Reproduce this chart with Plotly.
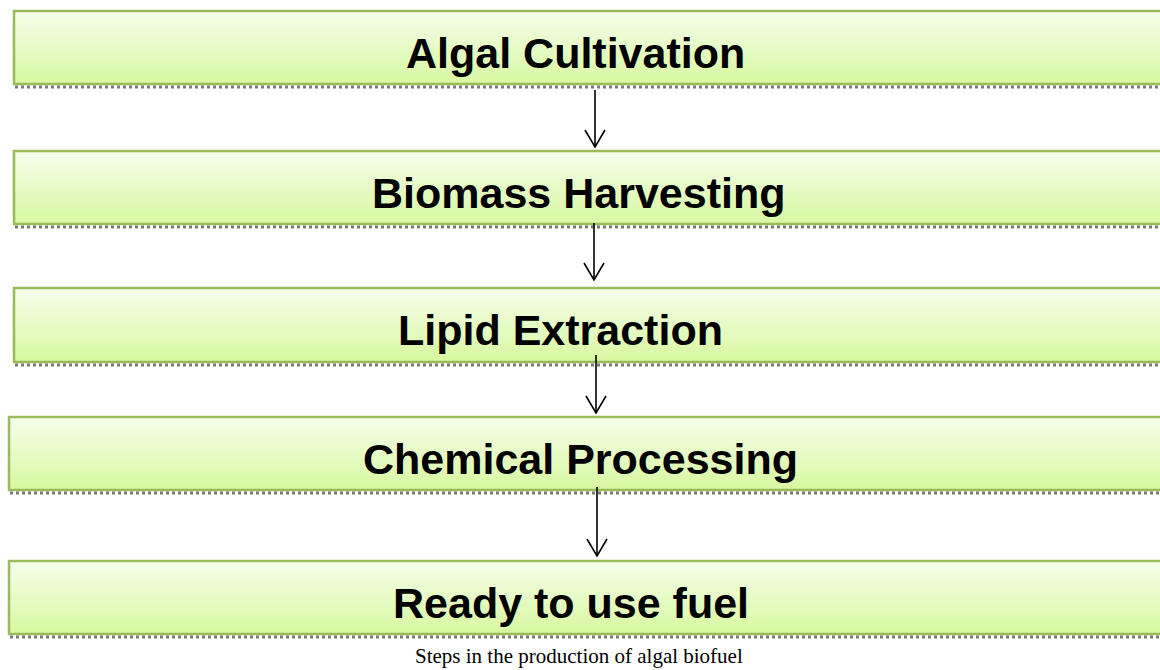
import plotly.graph_objects as go

steps = ["Algal Cultivation", "Biomass Harvesting", "Lipid Extraction",
         "Chemical Processing", "Ready to use fuel"]
caption = "Steps in the production of algal biofuel"

# layout geometry (pixel space)
box_top = [11, 151, 288, 417, 561]
box_bot = [84, 224, 362, 490, 634]
box_left = [14, 14, 14, 9, 9]
box_right = 1166
text_x = [575, 578, 560, 580, 571]
arrow_x = [595, 594, 596, 597]
arrow_y0 = [90, 223, 355, 487]
arrow_y1 = [147, 280, 413, 556]

TOP_RGB = (245, 253, 236)
BOT_RGB = (216, 248, 160)
N_BANDS = 24


def mix(t):
    r, g, b = (round(a + (c - a) * t) for a, c in zip(TOP_RGB, BOT_RGB))
    return f"rgb({r},{g},{b})"


fig = go.Figure()
shapes = []
for i, s in enumerate(steps):
    x0, x1, y0, y1 = box_left[i], box_right, box_top[i], box_bot[i]
    h = (y1 - y0) / N_BANDS
    for k in range(N_BANDS):
        shapes.append(dict(type="rect", x0=x0, x1=x1, y0=y0 + k * h, y1=y0 + (k + 1) * h + 0.6,
                           fillcolor=mix((k + 0.5) / N_BANDS), line=dict(width=0),
                           layer="below"))
    shapes.append(dict(type="rect", x0=x0, x1=x1, y0=y0, y1=y1,
                       line=dict(color="#9bbb59", width=2.5), fillcolor="rgba(0,0,0,0)",
                       layer="below"))
    # dotted shadow
    shapes.append(dict(type="line", x0=x0 + 1, x1=x1, y0=y1 + 3, y1=y1 + 3,
                       line=dict(color="#7a7a7a", width=3, dash="dot"), layer="below"))
    fig.add_annotation(x=text_x[i], y=(y0 + y1) / 2 + 5, text="<b>" + s + "</b>",
                       showarrow=False, xanchor="center", yanchor="middle",
                       font=dict(family="Liberation Sans, Arial, sans-serif",
                                 size=43, color="black"))

for ax, a0, a1 in zip(arrow_x, arrow_y0, arrow_y1):
    shapes.append(dict(type="line", x0=ax, x1=ax, y0=a0, y1=a1,
                       line=dict(color="black", width=1.6)))
    shapes.append(dict(type="path",
                       path=f"M {ax-10},{a1-17} L {ax},{a1} L {ax+10},{a1-17}",
                       line=dict(color="black", width=1.6)))

fig.add_annotation(x=579, y=656, text=caption, showarrow=False,
                   xanchor="center", yanchor="middle",
                   font=dict(family="Liberation Serif, Times New Roman, serif",
                             size=21, color="black"))

fig.update_layout(
    width=1160, height=670, margin=dict(l=0, r=0, t=0, b=0),
    paper_bgcolor="white", plot_bgcolor="rgba(0,0,0,0)",
    xaxis=dict(range=[0, 1160], visible=False, fixedrange=True),
    yaxis=dict(range=[670, 0], visible=False, fixedrange=True),
    shapes=shapes, showlegend=False)

fig.write_html("out.html", config={"displayModeBar": False},
               post_script="document.body.style.margin='0px';document.body.style.overflow='hidden';")
